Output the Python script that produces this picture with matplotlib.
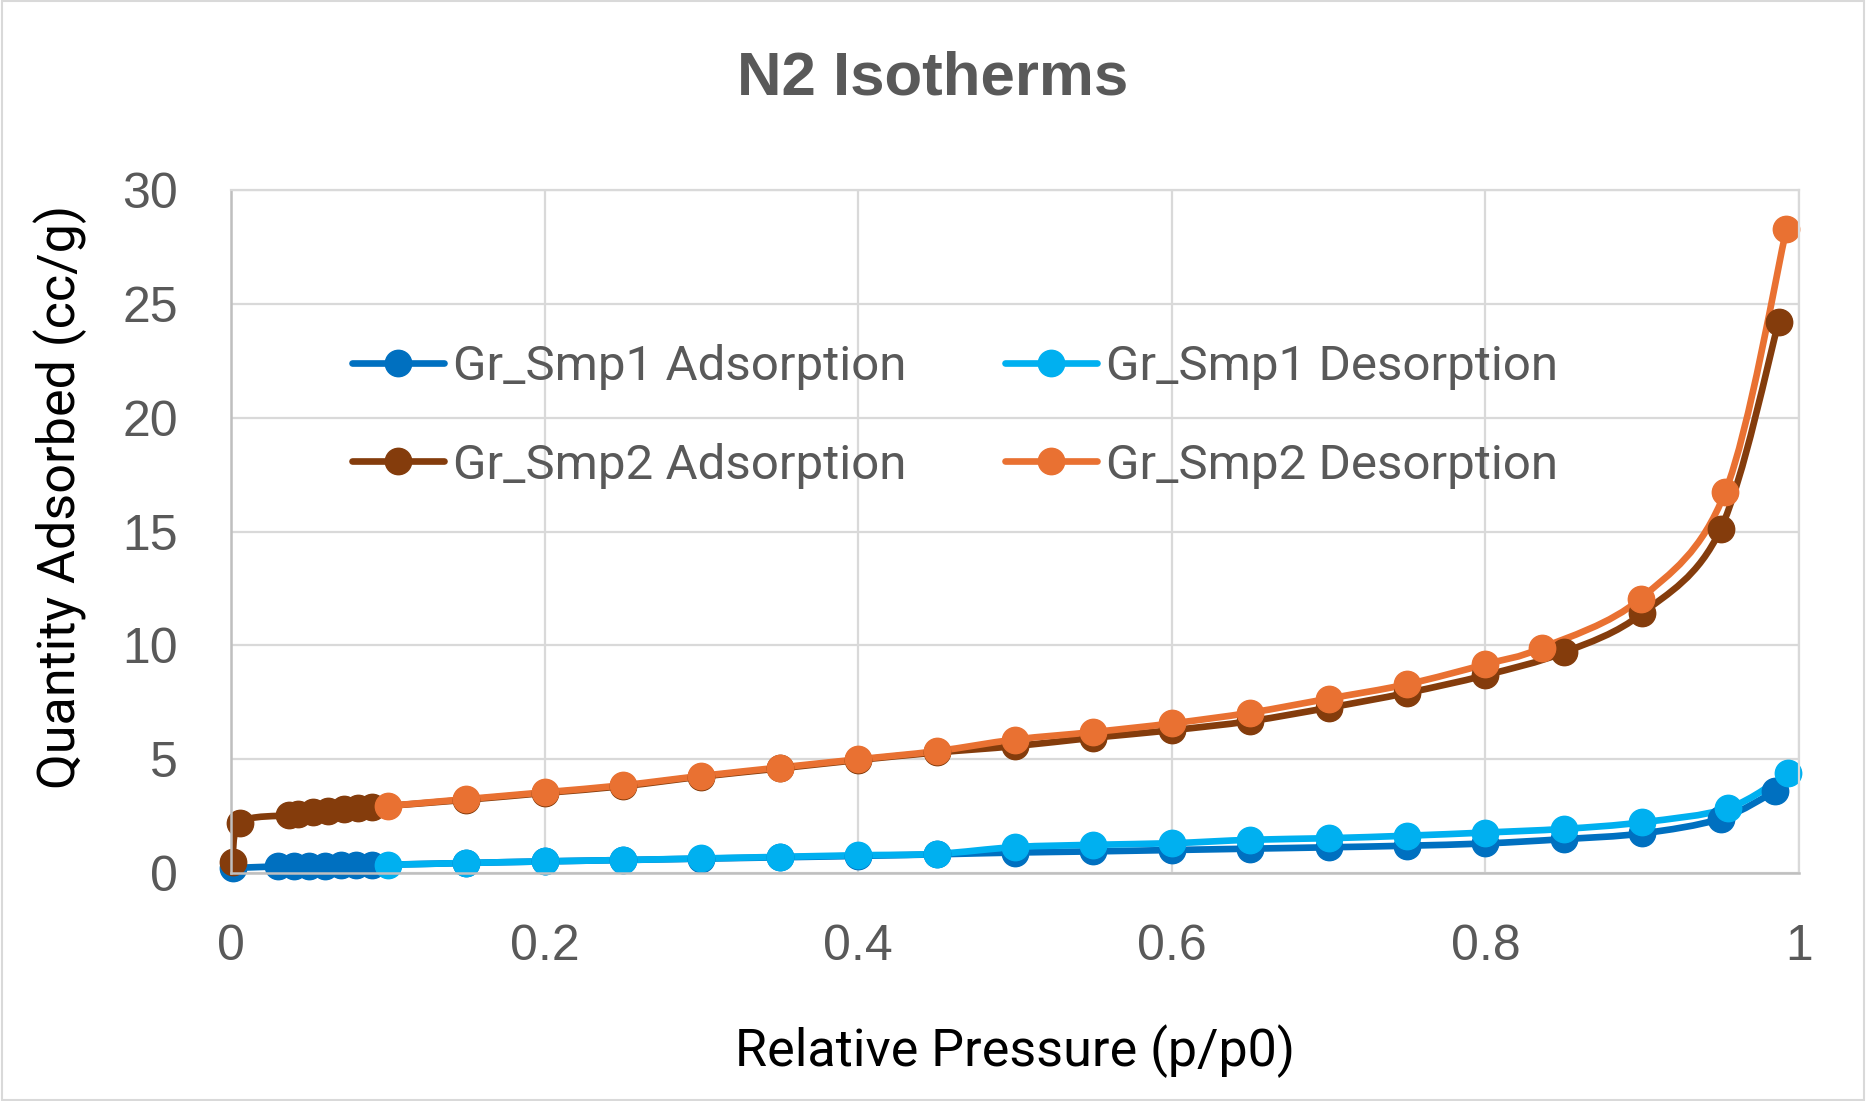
import numpy as np
import matplotlib.pyplot as plt
from matplotlib.path import Path
from matplotlib.patches import PathPatch, Rectangle
from matplotlib.lines import Line2D

# data
smp1_ads_p = [0.001, 0.03, 0.04, 0.05, 0.06, 0.07, 0.08, 0.09, 0.15, 0.2, 0.25, 0.3, 0.35,
              0.4, 0.45, 0.5, 0.55, 0.6, 0.65, 0.7, 0.75, 0.8, 0.85, 0.9, 0.95, 0.985]
smp1_ads_q = [0.2, 0.27, 0.28, 0.29, 0.3, 0.31, 0.32, 0.33, 0.42, 0.49, 0.55, 0.61, 0.67,
              0.73, 0.8, 0.88, 0.93, 0.99, 1.05, 1.11, 1.18, 1.28, 1.47, 1.72, 2.37, 3.58]

smp1_des_p = [0.993, 0.955, 0.9, 0.85, 0.8, 0.75, 0.7, 0.65, 0.6, 0.55, 0.5, 0.45, 0.4,
              0.35, 0.3, 0.25, 0.2, 0.15, 0.1]
smp1_des_q = [4.36, 2.84, 2.21, 1.92, 1.76, 1.62, 1.51, 1.44, 1.29, 1.22, 1.12, 0.82, 0.76,
              0.69, 0.62, 0.55, 0.49, 0.42, 0.34]

smp2_ads_p = [0.001, 0.006, 0.037, 0.043, 0.052, 0.062, 0.072, 0.081, 0.09, 0.15, 0.2, 0.25,
              0.3, 0.35, 0.4, 0.45, 0.5, 0.55, 0.6, 0.65, 0.7, 0.75, 0.8, 0.85, 0.9, 0.95, 0.987]
smp2_ads_q = [0.45, 2.2, 2.52, 2.58, 2.65, 2.72, 2.78, 2.84, 2.88, 3.2, 3.5, 3.8,
              4.22, 4.58, 4.95, 5.28, 5.56, 5.93, 6.26, 6.66, 7.25, 7.9, 8.68, 9.68, 11.4, 15.1, 24.2]

smp2_des_p = [0.992, 0.953, 0.899, 0.836, 0.8, 0.75, 0.7, 0.65, 0.6, 0.55, 0.5, 0.45, 0.4,
              0.35, 0.3, 0.25, 0.2, 0.15, 0.1]
smp2_des_q = [28.3, 16.75, 12.05, 9.88, 9.16, 8.28, 7.65, 7.03, 6.56, 6.18, 5.85, 5.34, 4.98,
              4.62, 4.25, 3.84, 3.53, 3.23, 2.93]

labels = ["Gr_Smp1 Adsorption", "Gr_Smp1 Desorption", "Gr_Smp2 Adsorption", "Gr_Smp2 Desorption"]
colors = ["#0070C0", "#00B0F0", "#843C0C", "#E97132"]
series = [(smp1_ads_p, smp1_ads_q), (smp1_des_p, smp1_des_q),
          (smp2_ads_p, smp2_ads_q), (smp2_des_p, smp2_des_q)]

xticks = [0, 0.2, 0.4, 0.6, 0.8, 1]
xticklabels = ["0", "0.2", "0.4", "0.6", "0.8", "1"]
yticks = [0, 5, 10, 15, 20, 25, 30]


def smooth_path(x, y):
    # excel-style smoothed line: bezier segments through the points
    pts = np.column_stack([x, y])
    n = len(pts)
    verts = [pts[0]]
    codes = [Path.MOVETO]
    for i in range(n - 1):
        p0 = pts[max(i - 1, 0)]
        p1 = pts[i]
        p2 = pts[i + 1]
        p3 = pts[min(i + 2, n - 1)]
        c1 = p1 + (p2 - p0) / 6
        c2 = p2 - (p3 - p1) / 6
        verts += [c1, c2, p2]
        codes += [Path.CURVE4] * 3
    return Path(verts, codes)


fig = plt.figure(figsize=(18.66, 11.01), dpi=100)
ax = fig.add_axes([0.1238, 0.2075, 0.9641 - 0.1238, 0.827 - 0.2075])

lw = 4.8
ms = 19
for (px, qy), col, lab in zip(series, colors, labels):
    ax.add_patch(PathPatch(smooth_path(px, qy), facecolor="none", edgecolor=col,
                           lw=lw, capstyle="round", joinstyle="round"))
    ax.plot(px, qy, linestyle="none", marker="o", ms=ms, color=col, clip_on=False)

ax.set_xlim(0, 1)
ax.set_ylim(0, 30)
ax.set_xticks(xticks, xticklabels)
ax.set_yticks(yticks)
ax.grid(True, color="#D9D9D9", lw=1.6)
ax.set_axisbelow(True)
ax.tick_params(length=0, labelsize=36, labelcolor="#595959")
ax.tick_params(axis="x", pad=37)
ax.tick_params(axis="y", pad=38)
for lbl in ax.get_xticklabels() + ax.get_yticklabels():
    lbl.set_fontfamily("Liberation Sans")
for s in ["top", "right"]:
    ax.spines[s].set_color("#D9D9D9")
    ax.spines[s].set_linewidth(1.6)
for s in ["left", "bottom"]:
    ax.spines[s].set_color("#BFBFBF")
    ax.spines[s].set_linewidth(1.8)

ax.set_xlabel("Relative Pressure (p/p0)", fontsize=37.5, family="Roboto", color="black")
ax.xaxis.label.set_va("center")
ax.xaxis.set_label_coords(0.5, -0.262)
ax.set_ylabel("Quantity Adsorbed (cc/g)", fontsize=37.5, family="Roboto", color="black")
ax.yaxis.label.set_va("center")
ax.yaxis.set_label_coords(-0.109, 0.551)

fig.text(0.5, 1 - 79 / 1101, "N2 Isotherms", ha="center", va="center", fontsize=44.5,
         fontweight="bold", family="Liberation Sans", color="#595959")

# legend is filled row by row in the reference
order = [0, 2, 1, 3]
handles = [Line2D([], [], color=colors[i], lw=lw, marker="o", ms=ms, solid_capstyle="round")
           for i in order]
leg = ax.legend(handles, [labels[i] for i in order], ncol=2, loc="center left",
                bbox_to_anchor=(0.049, 0.669), frameon=False,
                prop={"family": "Roboto", "size": 35.5}, labelcolor="#595959",
                handlelength=1.86, handletextpad=0.19, columnspacing=2.0, labelspacing=1.07)

fig.patches.append(Rectangle((0.001, 0.001), 0.998, 0.998, transform=fig.transFigure,
                             fill=False, edgecolor="#D9D9D9", lw=1.5))

fig.savefig("out.png", dpi=100)
